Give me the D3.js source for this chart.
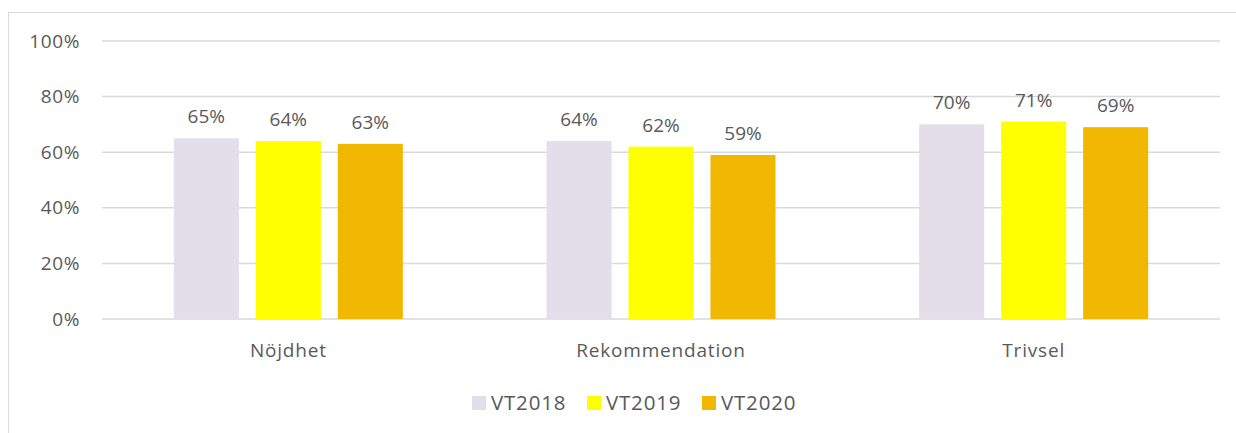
<!DOCTYPE html>
<html>
<head>
<meta charset="utf-8">
<script src="https://cdn.jsdelivr.net/npm/d3@7"></script>
<style>
  body { margin: 0; background: #fff; }
  text { font-family: "Open Sans", sans-serif; fill: #595959; }
</style>
</head>
<body>
<div id="chart"></div>
<script>
const categories = ["Nöjdhet", "Rekommendation", "Trivsel"];
const seriesNames = ["VT2018", "VT2019", "VT2020"];
const vt2018 = [65, 64, 70];
const vt2019 = [64, 62, 71];
const vt2020 = [63, 59, 69];
const yTicks = [0, 20, 40, 60, 80, 100];
const colors = ["#E2DEEA", "#FFFF00", "#F2B700"];

const allSeries = [vt2018, vt2019, vt2020];

const width = 1236, height = 433;
const margin = {top: 41, right: 16, bottom: 114, left: 102};
const fontSize = 19;

const svg = d3.select("#chart").append("svg")
  .attr("width", width)
  .attr("height", height);

// chart border
svg.append("rect")
  .attr("x", 8.5).attr("y", 12.5)
  .attr("width", 1240).attr("height", 440)
  .attr("fill", "none")
  .attr("stroke", "#D9D9D9");

const x = d3.scaleBand()
  .domain(categories)
  .range([margin.left, width - margin.right]);

const xInner = d3.scaleBand()
  .domain(seriesNames)
  .range([0, 229])
  .paddingInner(0.207);

const y = d3.scaleLinear()
  .domain([0, 100])
  .range([height - margin.bottom, margin.top]);

// gridlines
svg.append("g")
  .selectAll("line")
  .data(yTicks)
  .join("line")
  .attr("x1", margin.left)
  .attr("x2", width - margin.right)
  .attr("y1", d => y(d))
  .attr("y2", d => y(d))
  .attr("stroke", "#D9D9D9")
  .attr("stroke-width", 1.5);

// y labels
svg.append("g")
  .selectAll("text")
  .data(yTicks)
  .join("text")
  .attr("x", 80)
  .attr("y", d => y(d))
  .attr("dy", "0.35em")
  .attr("text-anchor", "end")
  .attr("font-size", fontSize)
  .attr("letter-spacing", 0.6)
  .text(d => d + "%");

// bars
const groups = svg.append("g")
  .selectAll("g")
  .data(categories)
  .join("g")
  .attr("transform", d => `translate(${x(d) + (x.bandwidth() - 229) / 2},0)`);

groups.selectAll("rect")
  .data((c, i) => seriesNames.map((s, j) => ({s, v: allSeries[j][i], j})))
  .join("rect")
  .attr("x", d => xInner(d.s))
  .attr("width", xInner.bandwidth())
  .attr("y", d => y(d.v))
  .attr("height", d => y(0) - y(d.v))
  .attr("fill", d => colors[d.j]);

groups.selectAll("text.val")
  .data((c, i) => seriesNames.map((s, j) => ({s, v: allSeries[j][i], j})))
  .join("text")
  .attr("class", "val")
  .attr("x", d => xInner(d.s) + xInner.bandwidth() / 2)
  .attr("y", d => y(d.v) - 15)
  .attr("text-anchor", "middle")
  .attr("font-size", fontSize)
  .text(d => d.v + "%");

// category labels
svg.append("g")
  .selectAll("text")
  .data(categories)
  .join("text")
  .attr("x", d => x(d) + x.bandwidth() / 2)
  .attr("y", 357)
  .attr("text-anchor", "middle")
  .attr("font-size", fontSize)
  .attr("letter-spacing", 0.8)
  .text(d => d);

// legend
const legendX = [472, 587, 702];
const legend = svg.append("g")
  .selectAll("g")
  .data(seriesNames)
  .join("g")
  .attr("transform", (d, i) => `translate(${legendX[i]},396)`);
legend.append("rect")
  .attr("width", 14).attr("height", 14)
  .attr("fill", (d, i) => colors[i]);
legend.append("text")
  .attr("x", 19).attr("y", 7)
  .attr("dy", "0.36em")
  .attr("font-size", 20.5)
  .attr("letter-spacing", 0.8)
  .text(d => d);
</script>
</body>
</html>
